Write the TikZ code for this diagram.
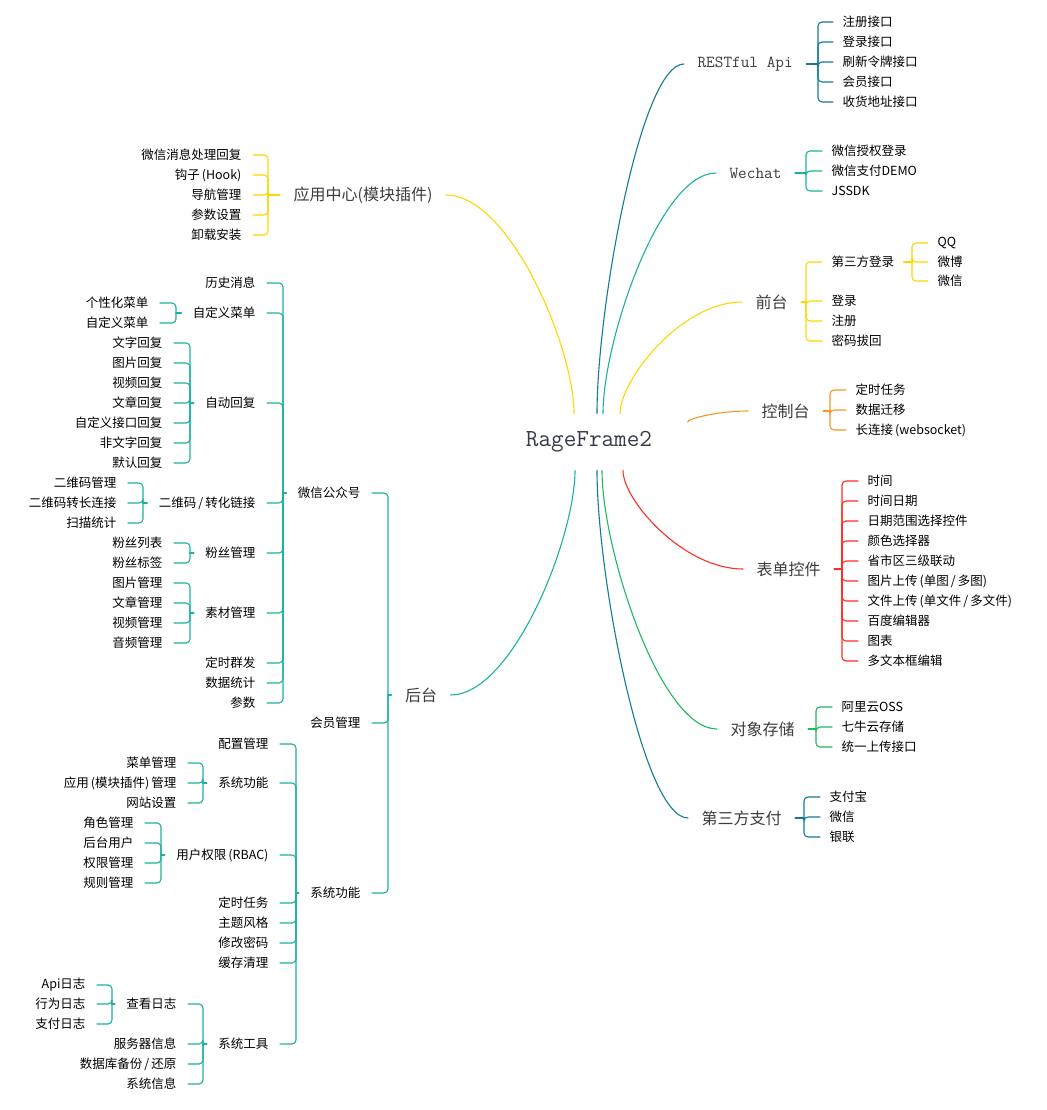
\documentclass[tikz,border=0pt]{standalone}
\usepackage{fontspec}
\setmainfont{Noto Sans CJK SC}
\usetikzlibrary{calc}
\definecolor{cyel}{RGB}{255,214,0}
\definecolor{cblue}{RGB}{16,122,152}
\definecolor{cteal}{RGB}{26,178,158}
\definecolor{corange}{RGB}{245,150,40}
\definecolor{cred}{RGB}{255,45,35}
\definecolor{cgreen}{RGB}{30,185,95}
\definecolor{rootgray}{RGB}{55,58,75}
\definecolor{topicgray}{RGB}{60,60,60}
\newcommand{\twig}[3]{\draw[#1] (#2) .. controls ($(#2)!0.3!(#2 |- #3)$) and ($(#2 |- #3)!0.5!(#3)$) .. (#3);}
\newcommand{\forkR}[4]{%
  \coordinate (#2-b) at (#3,0);
  \draw[#1] (#2.east) -- (#2-b |- #2.east);
  \foreach \kid in {#4}
    \draw[#1, rounded corners=4pt] (\kid.west) -| (#2-b |- #2.east);
}
\newcommand{\forkL}[4]{%
  \coordinate (#2-b) at (#3,0);
  \draw[#1] (#2.west) -- (#2-b |- #2.west);
  \foreach \kid in {#4}
    \draw[#1, rounded corners=4pt] (\kid.east) -| (#2-b |- #2.west);
}
\begin{document}
\begin{tikzpicture}[x=1pt, y=-1pt, line width=1.1pt, line cap=round, line join=round,
  root/.style={font=\ttfamily\fontsize{24.5}{26}\selectfont, text=rootgray, minimum width=196pt, minimum height=56pt, inner sep=0pt},
  topic/.style={font=\fontsize{16}{18}\selectfont, text=topicgray, inner xsep=13pt, inner ysep=2pt},
  latin/.style={font=\ttfamily\fontsize{16.8}{18}\selectfont},
  kidR/.style={anchor=west, font=\fontsize{12.5}{14}\selectfont, inner xsep=9pt, inner ysep=1pt},
  kidL/.style={anchor=east, font=\fontsize{12.5}{14}\selectfont, inner xsep=11pt, inner ysep=1pt}]
\useasboundingbox (0,0) rectangle (1046,1110);
\node[root] (root) at (589,442) {RageFrame2};
\path ($(root.north)+(-15,0)$) coordinate (s1)
  ($(root.north)+(8,0)$) coordinate (s2)
  ($(root.north)+(14,0)$) coordinate (s3)
  ($(root.north)+(31,0)$) coordinate (s4)
  ($(root.east)+(0,-20)$) coordinate (s5)
  ($(root.south)+(34,0)$) coordinate (s6)
  ($(root.south)+(13,0)$) coordinate (s7)
  ($(root.south)+(8,0)$) coordinate (s8)
  ($(root.south)+(-14,0)$) coordinate (s9);
\node[topic, latin, anchor=west] (rest) at (684,64) {RESTful Api};
\node[topic, latin, anchor=west] (wechat) at (716,173) {Wechat};
\node[topic, anchor=west] (front) at (742,302) {前台};
\node[topic, anchor=west] (console) at (748,411) {控制台};
\node[topic, anchor=west] (form) at (743,569) {表单控件};
\node[topic, anchor=west] (oss) at (717,729) {对象存储};
\node[topic, anchor=west] (pay) at (688,818) {第三方支付};
\node[topic] (apps) at (363,195) {应用中心(模块插件)};
\node[topic] (back) at (421,695) {后台};
\twig{cyel}{s1}{apps.east}
\twig{cblue}{s2}{rest.west}
\twig{cteal}{s3}{wechat.west}
\twig{cyel}{s4}{front.west}
\twig{corange}{s5}{console.west}
\twig{cred}{s6}{form.west}
\twig{cgreen}{s7}{oss.west}
\twig{cblue}{s8}{pay.west}
\twig{cteal}{s9}{back.east}
\foreach \nm/\txt/\y in {r1/注册接口/22, r2/登录接口/42, r3/刷新令牌接口/62, r4/会员接口/82, r5/收货地址接口/102}
  \node[kidR] (\nm) at (833,\y) {\txt};
\forkR{cblue}{rest}{818}{r1,r2,r3,r4,r5}
\foreach \nm/\txt/\y in {w1/微信授权登录/151, w2/微信支付DEMO/171, w3/JSSDK/191}
  \node[kidR] (\nm) at (822,\y) {\txt};
\forkR{cteal}{wechat}{806}{w1,w2,w3}
\foreach \nm/\txt/\y in {f1/第三方登录/262, f2/登录/301, f3/注册/321, f4/密码拔回/341}
  \node[kidR] (\nm) at (822,\y) {\txt};
\forkR{cyel}{front}{806}{f1,f2,f3,f4}
\foreach \nm/\txt/\y in {q1/QQ/243, q2/微博/262, q3/微信/281}
  \node[kidR] (\nm) at (928,\y) {\txt};
\forkR{cyel}{f1}{912}{q1,q2,q3}
\foreach \nm/\txt/\y in {c1/定时任务/390, c2/数据迁移/410, c3/长连接\,(websocket)/430}
  \node[kidR] (\nm) at (846,\y) {\txt};
\forkR{corange}{console}{830}{c1,c2,c3}
\foreach \nm/\txt/\y in {k0/时间/481, k1/时间日期/501, k2/日期范围选择控件/521, k3/颜色选择器/541, k4/省市区三级联动/561,
  k5/{图片上传\,(单图\,/\,多图)}/581, k6/{文件上传\,(单文件\,/\,多文件)}/601, k7/百度编辑器/621, k8/图表/641, k9/多文本框编辑/661}
  \node[kidR] (\nm) at (858,\y) {\txt};
\forkR{cred}{form}{842}{k0,k1,k2,k3,k4,k5,k6,k7,k8,k9}
\foreach \nm/\txt/\y in {o1/阿里云OSS/707, o2/七牛云存储/727, o3/统一上传接口/747}
  \node[kidR] (\nm) at (832,\y) {\txt};
\forkR{cgreen}{oss}{816}{o1,o2,o3}
\foreach \nm/\txt/\y in {p1/支付宝/797, p2/微信/817, p3/银联/837}
  \node[kidR] (\nm) at (820,\y) {\txt};
\forkR{cblue}{pay}{804}{p1,p2,p3}
\foreach \nm/\txt/\y in {a1/微信消息处理回复/155, a2/钩子\,(Hook)/175, a3/导航管理/195, a4/参数设置/215, a5/卸载安装/235}
  \node[kidL] (\nm) at (253,\y) {\txt};
\forkL{cyel}{apps}{268}{a1,a2,a3,a4,a5}
\foreach \nm/\txt/\y in {b1/微信公众号/493, b2/会员管理/723, b3/系统功能/893}
  \node[kidL] (\nm) at (372,\y) {\txt};
\forkL{cteal}{back}{388}{b1,b2,b3}
\foreach \nm/\txt/\y in {m1/历史消息/283, m2/自定义菜单/313, m3/自动回复/403, m4/{二维码\,/\,转化链接}/503, m5/粉丝管理/553,
  m6/素材管理/613, m7/定时群发/663, m8/数据统计/683, m9/参数/703}
  \node[kidL] (\nm) at (267,\y) {\txt};
\forkL{cteal}{b1}{283}{m1,m2,m3,m4,m5,m6,m7,m8,m9}
\foreach \nm/\txt/\y in {u1/个性化菜单/303, u2/自定义菜单/323}
  \node[kidL] (\nm) at (160,\y) {\txt};
\forkL{cteal}{m2}{176}{u1,u2}
\foreach \nm/\txt/\y in {h1/文字回复/343, h2/图片回复/363, h3/视频回复/383, h4/文章回复/403, h5/自定义接口回复/423, h6/非文字回复/443, h7/默认回复/463}
  \node[kidL] (\nm) at (174,\y) {\txt};
\forkL{cteal}{m3}{190}{h1,h2,h3,h4,h5,h6,h7}
\foreach \nm/\txt/\y in {e1/二维码管理/483, e2/二维码转长连接/503, e3/扫描统计/523}
  \node[kidL] (\nm) at (128,\y) {\txt};
\forkL{cteal}{m4}{143}{e1,e2,e3}
\foreach \nm/\txt/\y in {g1/粉丝列表/543, g2/粉丝标签/563}
  \node[kidL] (\nm) at (174,\y) {\txt};
\forkL{cteal}{m5}{190}{g1,g2}
\foreach \nm/\txt/\y in {j1/图片管理/583, j2/文章管理/603, j3/视频管理/623, j4/音频管理/643}
  \node[kidL] (\nm) at (174,\y) {\txt};
\forkL{cteal}{m6}{190}{j1,j2,j3,j4}
\foreach \nm/\txt/\y in {x1/配置管理/744, x2/系统功能/783, x3/用户权限\,(RBAC)/855, x4/定时任务/903, x5/主题风格/923,
  x6/修改密码/943, x7/缓存清理/963, x8/系统工具/1044}
  \node[kidL] (\nm) at (280,\y) {\txt};
\forkL{cteal}{b3}{296}{x1,x2,x3,x4,x5,x6,x7,x8}
\foreach \nm/\txt/\y in {v1/菜单管理/763, v2/应用\,(模块插件)\,管理/783, v3/网站设置/803}
  \node[kidL] (\nm) at (188,\y) {\txt};
\forkL{cteal}{x2}{203}{v1,v2,v3}
\foreach \nm/\txt/\y in {d1/角色管理/823, d2/后台用户/843, d3/权限管理/863, d4/规则管理/883}
  \node[kidL] (\nm) at (145,\y) {\txt};
\forkL{cteal}{x3}{161}{d1,d2,d3,d4}
\foreach \nm/\txt/\y in {t1/查看日志/1004, t2/服务器信息/1044, t3/{数据库备份\,/\,还原}/1064, t4/系统信息/1084}
  \node[kidL] (\nm) at (188,\y) {\txt};
\forkL{cteal}{x8}{203}{t1,t2,t3,t4}
\foreach \nm/\txt/\y in {l1/Api日志/985, l2/行为日志/1004, l3/支付日志/1024}
  \node[kidL] (\nm) at (97,\y) {\txt};
\forkL{cteal}{t1}{112}{l1,l2,l3}
\end{tikzpicture}
\end{document}
